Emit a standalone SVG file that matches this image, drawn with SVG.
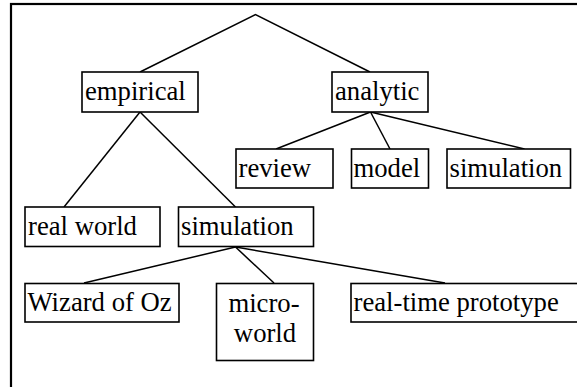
<svg xmlns="http://www.w3.org/2000/svg" width="577" height="387" viewBox="0 0 577 387">
<style>
.box{fill:#fff;stroke:#000;stroke-width:1.6}
.t{font-family:"Liberation Serif","Times New Roman",serif;font-size:26.7px;fill:#000}
.c{text-anchor:middle}
.ln{stroke:#000;stroke-width:1.5;fill:none}
</style>
<rect x="11" y="4" width="600" height="420" fill="#fff" stroke="#000" stroke-width="2.2"/>
<g id="connectors" class="ln">
<polyline points="140,72 255.5,14.5 370,72"/>
<line x1="140" y1="112" x2="64" y2="207"/>
<line x1="140" y1="112" x2="235.5" y2="207"/>
<line x1="370.5" y1="112" x2="276" y2="149"/>
<line x1="370.5" y1="112" x2="390" y2="149"/>
<line x1="370.5" y1="112" x2="524.5" y2="149"/>
<line x1="235.5" y1="247" x2="84" y2="283"/>
<line x1="235.5" y1="247" x2="274" y2="283"/>
<line x1="235.5" y1="247" x2="445" y2="283"/>
</g>
<g id="empirical"><rect class="box" x="82" y="72" width="116" height="40"/><text class="t" x="85" y="100">empirical</text></g>
<g id="analytic"><rect class="box" x="332" y="72" width="96" height="40"/><text class="t" x="335" y="100">analytic</text></g>
<g id="review"><rect class="box" x="236" y="149" width="97" height="39"/><text class="t" x="238.5" y="177">review</text></g>
<g id="model"><rect class="box" x="351.5" y="149" width="77" height="39"/><text class="t" x="353.5" y="177">model</text></g>
<g id="simulation-analytic"><rect class="box" x="447" y="149" width="123.5" height="39"/><text class="t" x="449.5" y="177">simulation</text></g>
<g id="real-world"><rect class="box" x="25" y="207" width="135" height="39.5"/><text class="t" x="28" y="235">real world</text></g>
<g id="simulation-empirical"><rect class="box" x="178.5" y="207" width="135" height="39.5"/><text class="t" x="181" y="235">simulation</text></g>
<g id="wizard"><rect class="box" x="25" y="283.5" width="154" height="38.5"/><text class="t" x="27.5" y="311">Wizard of Oz</text></g>
<g id="microworld"><rect class="box" x="216.5" y="283.5" width="97" height="77"/><text class="t c" x="264" y="312">micro-</text><text class="t c" x="265" y="342">world</text></g>
<g id="realtime"><rect class="box" x="351" y="283.5" width="240" height="38.5"/><text class="t" x="353.5" y="311">real-time prototype</text></g>
</svg>
